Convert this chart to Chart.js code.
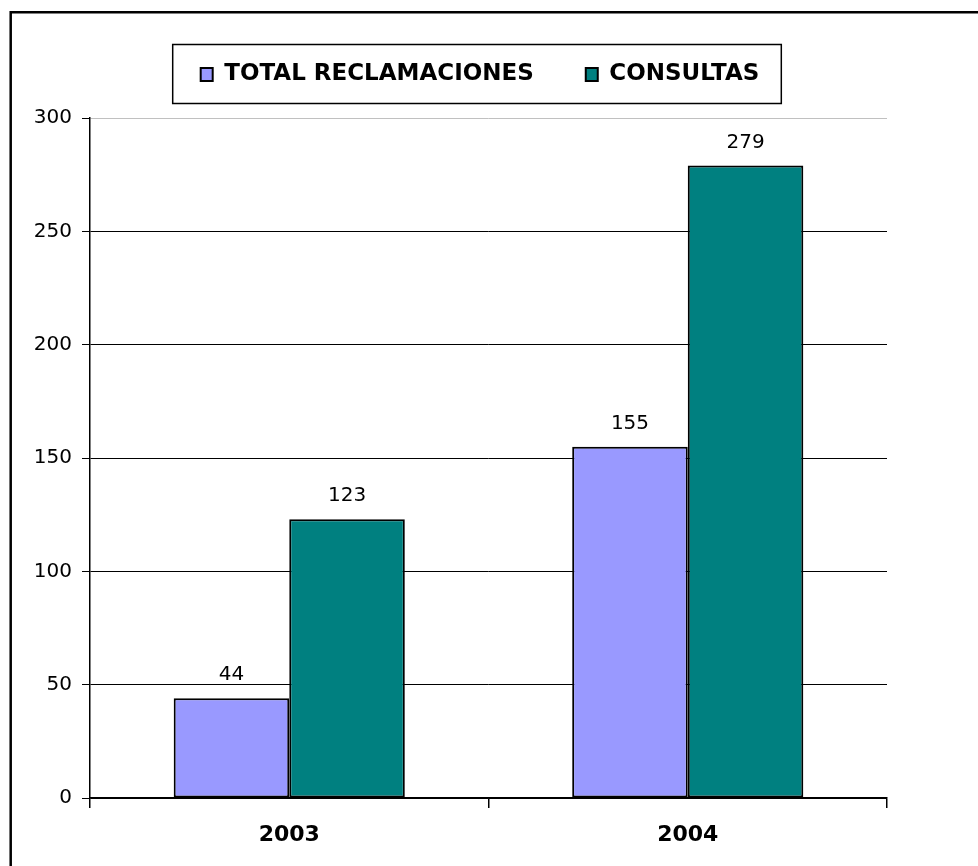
<!DOCTYPE html>
<html>
<head>
<meta charset="utf-8">
<title>Reclamaciones y consultas</title>
<script src="https://cdn.jsdelivr.net/npm/chart.js@4/dist/chart.umd.min.js"></script>
<style>
  html, body { margin: 0; padding: 0; background: #fff; }
  canvas { display: block; }
</style>
</head>
<body>
<canvas id="chart" width="978" height="866"></canvas>
<script>
var years = ['2003', '2004'];
var reclamaciones = [44, 155];
var consultas = [123, 279];
var yTicks = [0, 50, 100, 150, 200, 250, 300];

var FONT = "'DejaVu Sans', Verdana, sans-serif";

// outer frame (only top and left edges are visible in the original)
var framePlugin = {
    id: 'frame',
    afterDraw: function (chart) {
        var ctx = chart.ctx;
        ctx.save();
        ctx.strokeStyle = '#000';
        ctx.lineWidth = 2.5;
        ctx.beginPath();
        ctx.moveTo(10.7, chart.height);
        ctx.lineTo(10.7, 12.2);
        ctx.lineTo(chart.width, 12.2);
        ctx.stroke();
        ctx.restore();
    }
};

// fixed legend height, centre it on the whole canvas, box round it
var legendBoxPlugin = {
    id: 'legendBox',
    beforeLayout: function (chart) {
        var lg = chart.legend;
        if (lg && !lg._fixedHeight) {
            var fit = lg.fit;
            lg.fit = function () {
                fit.call(this);
                this.height = 107;
            };
            lg._fixedHeight = true;
        }
    },
    afterLayout: function (chart) {
        var lg = chart.legend;
        lg.left = -9;
        lg.right = chart.width - 9;
        lg.width = lg.right - lg.left;
    },
    afterDraw: function (chart) {
        var boxes = chart.legend.legendHitBoxes;
        if (!boxes || !boxes.length) return;
        var first = boxes[0], last = boxes[boxes.length - 1];
        var cy = first.top + first.height / 2;
        var ctx = chart.ctx;
        ctx.save();
        ctx.strokeStyle = '#000';
        ctx.lineWidth = 1.5;
        ctx.strokeRect(first.left - 28, cy - 30, last.left + last.width - first.left + 50, 59);
        ctx.restore();
    }
};

// value above each bar
var valueLabels = {
    id: 'valueLabels',
    afterDatasetsDraw: function (chart) {
        var ctx = chart.ctx;
        ctx.save();
        ctx.font = '20px ' + FONT;
        ctx.fillStyle = '#000';
        ctx.textAlign = 'center';
        ctx.textBaseline = 'middle';
        chart.data.datasets.forEach(function (ds, i) {
            chart.getDatasetMeta(i).data.forEach(function (bar, j) {
                ctx.fillText(ds.data[j], bar.x, bar.y - 23);
            });
        });
        ctx.restore();
    }
};

new Chart(document.getElementById('chart'), {
    type: 'bar',
    data: {
        labels: years,
        datasets: [{
            label: 'TOTAL RECLAMACIONES',
            data: reclamaciones,
            backgroundColor: '#9999FF',
            borderColor: '#000',
            borderWidth: 2,
            borderSkipped: false
        }, {
            label: 'CONSULTAS',
            data: consultas,
            backgroundColor: '#008080',
            borderColor: '#000',
            borderWidth: 2,
            borderSkipped: false
        }]
    },
    options: {
        responsive: false,
        animation: false,
        categoryPercentage: 0.58,
        barPercentage: 1.0,
        layout: {
            padding: { top: 11, left: 0, right: 91, bottom: 0 }
        },
        plugins: {
            tooltip: { enabled: false },
            legend: {
                position: 'top',
                labels: {
                    boxWidth: 12,
                    boxHeight: 13,
                    padding: 52,
                    color: '#000',
                    font: { family: FONT, size: 23, weight: 'bold' }
                }
            }
        },
        scales: {
            x: {
                afterFit: function (scale) { scale.height = 68; },
                border: { color: '#000', width: 1.5 },
                grid: {
                    drawOnChartArea: false,
                    offset: true,
                    color: '#000',
                    lineWidth: 1.5,
                    tickLength: 10
                },
                ticks: {
                    color: '#000',
                    padding: 14,
                    font: { family: FONT, size: 22, weight: 'bold' }
                }
            },
            y: {
                min: 0,
                max: 300,
                afterFit: function (scale) { scale.width = 90; },
                afterBuildTicks: function (scale) {
                    scale.ticks = yTicks.map(function (v) { return { value: v }; });
                },
                border: { color: '#000', width: 1.5 },
                grid: {
                    color: function (c) { return c.tick && c.tick.value === 300 ? '#c0c0c0' : '#000'; },
                    tickColor: '#000',
                    lineWidth: 1,
                    tickLength: 8
                },
                ticks: {
                    color: '#000',
                    padding: 10,
                    font: { family: FONT, size: 20 }
                }
            }
        }
    },
    plugins: [framePlugin, legendBoxPlugin, valueLabels]
});
</script>
</body>
</html>
